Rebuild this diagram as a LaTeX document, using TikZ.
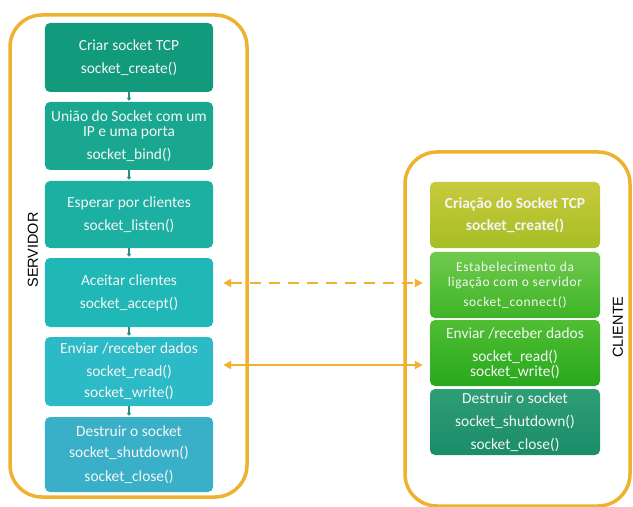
\documentclass[tikz,border=0pt]{standalone}
\usepackage{fontspec}
\setmainfont{Carlito}
\newfontfamily\labelfont{Liberation Sans}
\usetikzlibrary{arrows.meta,calc}

\definecolor{frameor}{HTML}{EFB22E}
\definecolor{sA}{HTML}{119A7C}
\definecolor{sB}{HTML}{19A790}
\definecolor{sC}{HTML}{1BB0A2}
\definecolor{sD}{HTML}{20B7B7}
\definecolor{sE}{HTML}{2CBBC6}
\definecolor{sF}{HTML}{3AB0C8}
\definecolor{stubcol}{HTML}{2A8F86}

\tikzset{
  box/.style={draw=none, rounded corners=5bp, minimum width=168bp, inner sep=0pt,
    align=center, text=white!96!black,
    font=\fontsize{15.5}{15}\selectfont},
  cbox/.style={box, minimum width=170bp, minimum height=66bp},
  frame/.style={draw=frameor, line width=3.5bp, rounded corners=32bp},
  stub/.style={draw=stubcol, line width=1.6bp, -{Triangle[length=3bp,width=4.5bp]}, shorten >=1bp},
  link/.style={draw=frameor, line width=2.6bp,
    {Triangle[length=8bp,width=8bp]}-{Triangle[length=8bp,width=8bp]}},
  sidelabel/.style={font=\labelfont\fontsize{14.5}{16}\selectfont, rotate=90, text=black}
}

\begin{document}
\begin{tikzpicture}[x=1bp,y=-1bp]
\useasboundingbox (0,0) rectangle (633,507);

% outer frames
\draw[frame] (10,15) rectangle (247,497);
\draw[frame] (405,152) rectangle (630,506);

% server steps
\node[box, fill=sA, minimum height=69bp] (s1) at (129,57.5)
  {Criar socket TCP\\[8bp]socket\_create()};
\node[box, fill=sB, minimum height=68bp] (s2) at (129,136)
  {União do Socket com um\\IP e uma porta\\[8bp]socket\_bind()};
\node[box, fill=sC, minimum height=67bp] (s3) at (129,214.5)
  {Esperar por clientes\\[8bp]socket\_listen()};
\node[box, fill=sD, minimum height=69bp] (s4) at (129,292.5)
  {Aceitar clientes\\[8bp]socket\_accept()};
\node[box, fill=sE, minimum height=69bp] (s5) at (129,371.5)
  {Enviar /receber dados\\[7.5bp]socket\_read()\\[7bp]socket\_write()};
\node[box, fill=sF, minimum height=75bp] (s6) at (129,454.5)
  {Destruir o socket\\[6bp]socket\_shutdown()\\[9bp]socket\_close()};

\foreach \a/\b in {s1/s2,s2/s3,s3/s4,s4/s5,s5/s6}
  \draw[stub] (\a.south) -- (\b.north);

% client steps
\node[cbox, top color={rgb,255:red,200;green,202;blue,62}, bottom color={rgb,255:red,166;green,190;blue,36}] (c1) at (515,215)
  {\bfseries Criação do Socket TCP\\[7bp]\bfseries socket\_create()};
\node[cbox, top color={rgb,255:red,112;green,202;blue,78}, bottom color={rgb,255:red,62;green,180;blue,38},
  font=\fontsize{13.5}{15}\selectfont\addfontfeature{LetterSpace=5}] (c2) at (515,285)
  {Estabelecimento da\\ligação com o servidor\\[5bp]socket\_connect()};
\node[cbox, top color={rgb,255:red,80;green,190;blue,50}, bottom color={rgb,255:red,40;green,168;blue,30}] (c3) at (515,353)
  {Enviar /receber dados\\[8bp]socket\_read()\\socket\_write()};
\node[cbox, top color={rgb,255:red,46;green,158;blue,118}, bottom color={rgb,255:red,26;green,140;blue,104}] (c4) at (515,422)
  {Destruir o socket\\[8bp]socket\_shutdown()\\[8bp]socket\_close()};

% side labels
\node[sidelabel] (srv) at (33,250) {SERVIDOR};
\node[sidelabel] (cli) at (618,327) {CLIENTE};

% links between server and client
\draw[link, dashed, dash pattern=on 11bp off 8bp, shorten <=10bp, shorten >=7bp]
  ([yshift=9.5bp]s4.east) -- ([yshift=9.5bp]s4.east -| c2.west);
\draw[link, shorten <=10bp, shorten >=7bp]
  ([yshift=6.5bp]s5.east) -- ([yshift=6.5bp]s5.east -| c3.west);
\end{tikzpicture}
\end{document}
